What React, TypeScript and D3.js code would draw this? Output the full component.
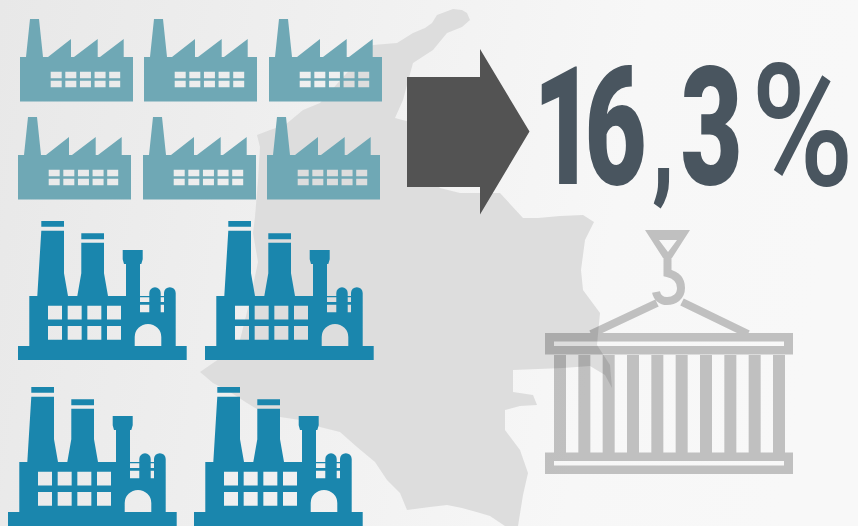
import React from "react";
import * as d3 from "d3";

// values
const shareGlyphs = ["1", "6", ",", "3"];
const shareUnit = "%";
const lightFactoryRows = [3, 3];
const darkFactoryRows = [2, 2];
const containerSlats = d3.range(10);
const factoryWindowCols = d3.range(5);
const factoryWindowRows = d3.range(2);
const plantWindowCols = d3.range(4);
const plantWindowRows = d3.range(2);

// icon origins, one list per row
const lightX = [[20, 144, 269], [18, 143, 267]];
const lightY = [19, 117];
const darkX = [[18, 205], [8, 194]];
const darkY = [221, 387];

// left edge of each glyph of the big number, and its squeeze
const glyphX = [533, 584.5, 652, 680.5];
const glyphSqueeze = 0.65;

// silhouette of the map behind everything
const mapOutline: [number, number][] = [
  [373, 45], [397, 43], [413, 33], [425, 28], [432, 23], [437, 15], [445, 12], [453, 9], [462, 10], [467, 13], [470, 20],
  [462, 27], [447, 33], [433, 50], [413, 63], [407, 85], [403, 100], [395, 118], [410, 122], [425, 170], [440, 188],
  [460, 193], [480, 193], [500, 193], [523, 218], [538, 218], [560, 216], [583, 215], [594, 222], [585, 240], [581, 270],
  [583, 290], [600, 313], [597, 345], [610, 365], [612, 388], [605, 375], [590, 366], [563, 368], [513, 370], [513, 392],
  [533, 395], [537, 405], [520, 406], [505, 410], [505, 430], [520, 450], [528, 473], [523, 495], [518, 526], [505, 526],
  [490, 516], [480, 513], [462, 508], [447, 505], [430, 507], [407, 510], [400, 493], [387, 480], [375, 462], [357, 447],
  [340, 432], [320, 427], [300, 420], [280, 417], [262, 412], [247, 403], [230, 392], [213, 383], [200, 372], [213, 363],
  [225, 355], [240, 340], [250, 300], [258, 262], [253, 233], [255, 217], [258, 180], [260, 147], [257, 135], [270, 130],
  [285, 125], [303, 110], [320, 103], [345, 75],
];

const polyline = d3.line();
const closed = (pts: [number, number][]) => polyline(pts) + "Z";

const factoryBody = closed([
  [10, 0], [19, 0], [23, 38], [28, 38], [51, 20], [51, 38], [54, 38], [77.7, 20], [77.7, 38], [80, 38], [103.7, 20],
  [103.7, 38], [113, 38], [113, 82.5], [0, 82.5], [0, 38], [6, 38],
]);

const factoryWindowX = d3.scaleLinear().domain([0, 4]).range([30.7, 89.2]);
const factoryWindowY = d3.scaleLinear().domain([0, 1]).range([52.7, 61.7]);

function LightFactory({ x, y }: { x: number; y: number }) {
  const holes = factoryWindowRows
    .flatMap((r) =>
      factoryWindowCols.map((c) => `M${factoryWindowX(c)},${factoryWindowY(r)}h11v6.6h-11Z`)
    )
    .join("");
  return <path transform={`translate(${x},${y})`} d={factoryBody + holes} fill="#6fa8b5" fillRule="evenodd" />;
}

const plantBody = [
  "M23.3,9.7H46V52.3L50,75H59.3L63.3,52.3V21.7H86V52.3L90,75H108V43H106L104.7,38.3V29H124.7V38.3L123.3,43H122V75",
  "H131.3V72A5.7,5.7 0 0 1 142.7,72V75H146V72A5.85,5.85 0 0 1 157.7,72V125H168.7V139H0V125H11.3V75H19.3Z",
].join("");
const plantCaps = "M23.3,0H46V5.7H23.3ZM63.3,12.3H86V18.3H63.3Z";
// small openings beside the towers and the arched door
const plantOpenings = [
  "M122,76.3H131.3V81H122ZM122,83.7H131.3V91.3H122ZM142.7,76.3H146V81H142.7ZM142.7,83.7H146V91.3H142.7Z",
  "M116.7,125V116A13.3,13 0 0 1 143.3,116V125Z",
].join("");

const plantWindowX = d3.scaleLinear().domain([0, 3]).range([30, 89]);
const plantWindowY = d3.scaleLinear().domain([0, 1]).range([84.7, 105]);

function DarkFactory({ x, y }: { x: number; y: number }) {
  const holes = plantWindowRows
    .flatMap((r) =>
      plantWindowCols.map((c) => `M${plantWindowX(c)},${plantWindowY(r)}h14v13.7h-14Z`)
    )
    .join("");
  return (
    <path
      transform={`translate(${x},${y})`}
      d={plantBody + plantCaps + plantOpenings + holes}
      fill="#1a86ad"
      fillRule="evenodd"
    />
  );
}

const slatX = d3.scaleLinear().domain([0, 9]).range([554, 773]);

function Container() {
  const rail = (top: number) => `M545,${top}H793V${top + 21.5}H545ZM554,${top + 8.4}V${top + 13}H784V${top + 8.4}Z`;
  const slats = containerSlats.map((i) => `M${slatX(i)},354h12v98.5h-12Z`).join("");
  return (
    <g opacity={0.22} filter="url(#soft)">
      <path
        d={
          closed([[645, 230], [690, 230], [672, 258], [663, 258]]) +
          closed([[659, 240], [668, 252], [677, 240]]) +
          rail(333) +
          rail(452.5) +
          slats
        }
        fill="#000"
        fillRule="evenodd"
      />
      <path
        d="M667.5,258V273C676,275 681,280 681,288C681,297 674,301 667,301C661,301 657,297 656,292M657,303L591,334M682,302L748,334"
        fill="none"
        stroke="#000"
        strokeWidth={8}
      />
    </g>
  );
}

export default function App() {
  return (
    <svg
      width={858}
      height={526}
      viewBox="0 0 858 526"
      style={{ position: "absolute", left: 0, top: 0 }}
    >
      <defs>
        <linearGradient id="bg" x1="0" y1="0" x2="1" y2="0.1">
          <stop offset="0" stopColor="#e8e8e8" />
          <stop offset="0.75" stopColor="#f7f7f7" />
          <stop offset="1" stopColor="#f8f8f8" />
        </linearGradient>
        <filter id="soft" x="-5%" y="-5%" width="110%" height="110%">
          <feGaussianBlur stdDeviation="0.45" />
        </filter>
      </defs>
      <rect width={858} height={526} fill="url(#bg)" />
      <path d={closed(mapOutline)} fill="#dddddd" />

      {lightFactoryRows.map((count, r) =>
        d3.range(count).map((c) => <LightFactory key={`l${r}${c}`} x={lightX[r][c]} y={lightY[r]} />)
      )}
      {darkFactoryRows.map((count, r) =>
        d3.range(count).map((c) => <DarkFactory key={`d${r}${c}`} x={darkX[r][c]} y={darkY[r]} />)
      )}

      <path
        d={closed([[407, 77], [480, 77], [480, 49], [529.5, 131.5], [480, 214.5], [480, 187], [407, 187]])}
        fill="#535353"
      />

      <g fontFamily="Roboto, sans-serif" fill="#49555f">
        <text transform={`translate(0,183.5) scale(${glyphSqueeze},1)`} fontSize={165} fontWeight={900}>
          {shareGlyphs.map((g, i) => (
            <tspan key={i} x={glyphX[i] / glyphSqueeze} fontSize={g === "," ? 128 : 165}>
              {g}
            </tspan>
          ))}
        </text>
        <text transform="translate(751,185) scale(0.82,1)" fontSize={170} fontWeight={500}>
          {shareUnit}
        </text>
      </g>

      <Container />
    </svg>
  );
}
